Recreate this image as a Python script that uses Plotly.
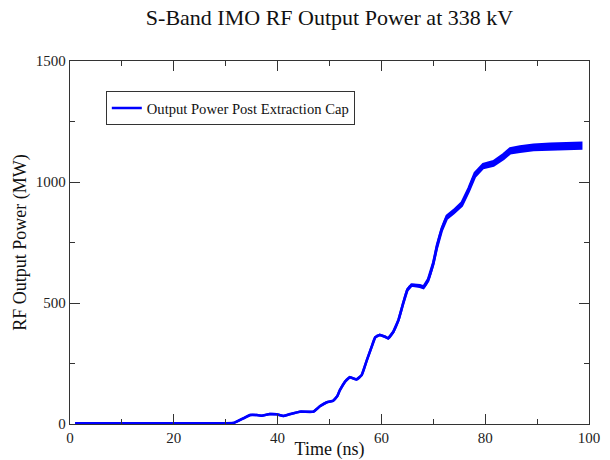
import plotly.graph_objects as go

time_ns = [1, 5, 10, 15, 20, 25, 30,
           31.5, 32.1, 33.4, 34.7, 36.0, 36.9, 38.5, 39.8, 41.1, 42.4,
           44.3, 46.9, 48.2, 49.5, 50.7, 51.5, 52.0, 53.0, 53.9, 55.2,
           56.2, 57.2, 58.1, 58.8, 59.7, 60.7,
           61.3, 62.3, 63.3, 64.2, 65.0, 65.8, 67.4, 68.1, 69.0, 70.0,
           70.7, 71.6, 72.6, 73.9, 75.5, 76.8, 78.0, 79.6, 81.6, 83.5,
           84.8, 86.7, 89.3, 92.5, 95.7, 98.5]

power_mw = [3, 3, 3, 3, 3, 3, 3,
            4, 10, 23, 37, 37, 34, 41, 40, 33, 41,
            51, 51, 74, 90, 96, 115, 140, 175, 193, 184,
            202, 264, 319, 358, 368, 361,
            354, 381, 430, 499, 554, 574, 570, 565, 595, 664,
            733, 802, 854, 877, 909, 967, 1029, 1066, 1077, 1105,
            1129, 1136, 1143, 1146, 1149, 1150]

# half-width of the fast ripple band visible around the trace (MW)
ripple_mw = [0] * 33 + [0.5, 1, 1, 1.5, 2, 2, 3, 3, 4, 4,
                         5, 5, 6, 6, 7, 7, 8, 8, 9, 10,
                         10, 11, 11, 12, 12, 12]

x_ticks = [0, 20, 40, 60, 80, 100]
y_ticks = [0, 500, 1000, 1500]

BLUE = "#0000ff"
FONT = "Liberation Serif"

upper = [p + r for p, r in zip(power_mw, ripple_mw)]
lower = [p - r for p, r in zip(power_mw, ripple_mw)]

fig = go.Figure()
fig.add_trace(go.Scatter(
    x=time_ns + time_ns[::-1], y=upper + lower[::-1],
    mode="lines", fill="toself", fillcolor=BLUE,
    line=dict(color=BLUE, width=2.5), showlegend=False, hoverinfo="skip"))
fig.add_trace(go.Scatter(
    x=time_ns, y=power_mw, mode="lines",
    name="Output Power Post Extraction Cap",
    line=dict(color=BLUE, width=2.5, shape="spline", smoothing=0.6)))

axis_common = dict(
    showline=True, linecolor="#333", linewidth=1.3, mirror="allticks",
    ticks="inside", ticklen=10, tickwidth=1.2, tickcolor="#333",
    showgrid=False, zeroline=False, automargin=False,
    tickfont=dict(family=FONT, size=15, color="#222"),
)

fig.update_xaxes(range=[0, 100], tickvals=x_ticks,
                 minor=dict(dtick=10, ticks="inside", ticklen=5, tickcolor="#333", tickwidth=1.2),
                 title=dict(text="Time (ns)", font=dict(family=FONT, size=18, color="#111"), standoff=7),
                 **axis_common)
fig.update_yaxes(range=[0, 1500], tickvals=y_ticks,
                 minor=dict(dtick=250, ticks="inside", ticklen=5, tickcolor="#333", tickwidth=1.2),
                 title=dict(text="RF Output Power (MW)", font=dict(family=FONT, size=18, color="#111"), standoff=4),
                 **axis_common)

fig.update_layout(
    width=610, height=460,
    margin=dict(l=70, r=21, t=61, b=36),
    paper_bgcolor="white", plot_bgcolor="white",
    title=dict(text="S-Band IMO RF Output Power at 338 kV",
               font=dict(family=FONT, size=22, color="#111"),
               xref="paper", x=0.5, xanchor="center",
               yref="container", y=0.962, yanchor="middle", automargin=False),
    legend=dict(x=0.069, y=0.917, xanchor="left", yanchor="top",
                bordercolor="#333", borderwidth=1, bgcolor="white",
                itemwidth=30,
                font=dict(family=FONT, size=14.6, color="#111")),
    showlegend=True,
)

fig.write_html("out.html", config={"displayModeBar": False},
               post_script="document.body.style.margin='0';document.body.style.overflow='hidden';")
